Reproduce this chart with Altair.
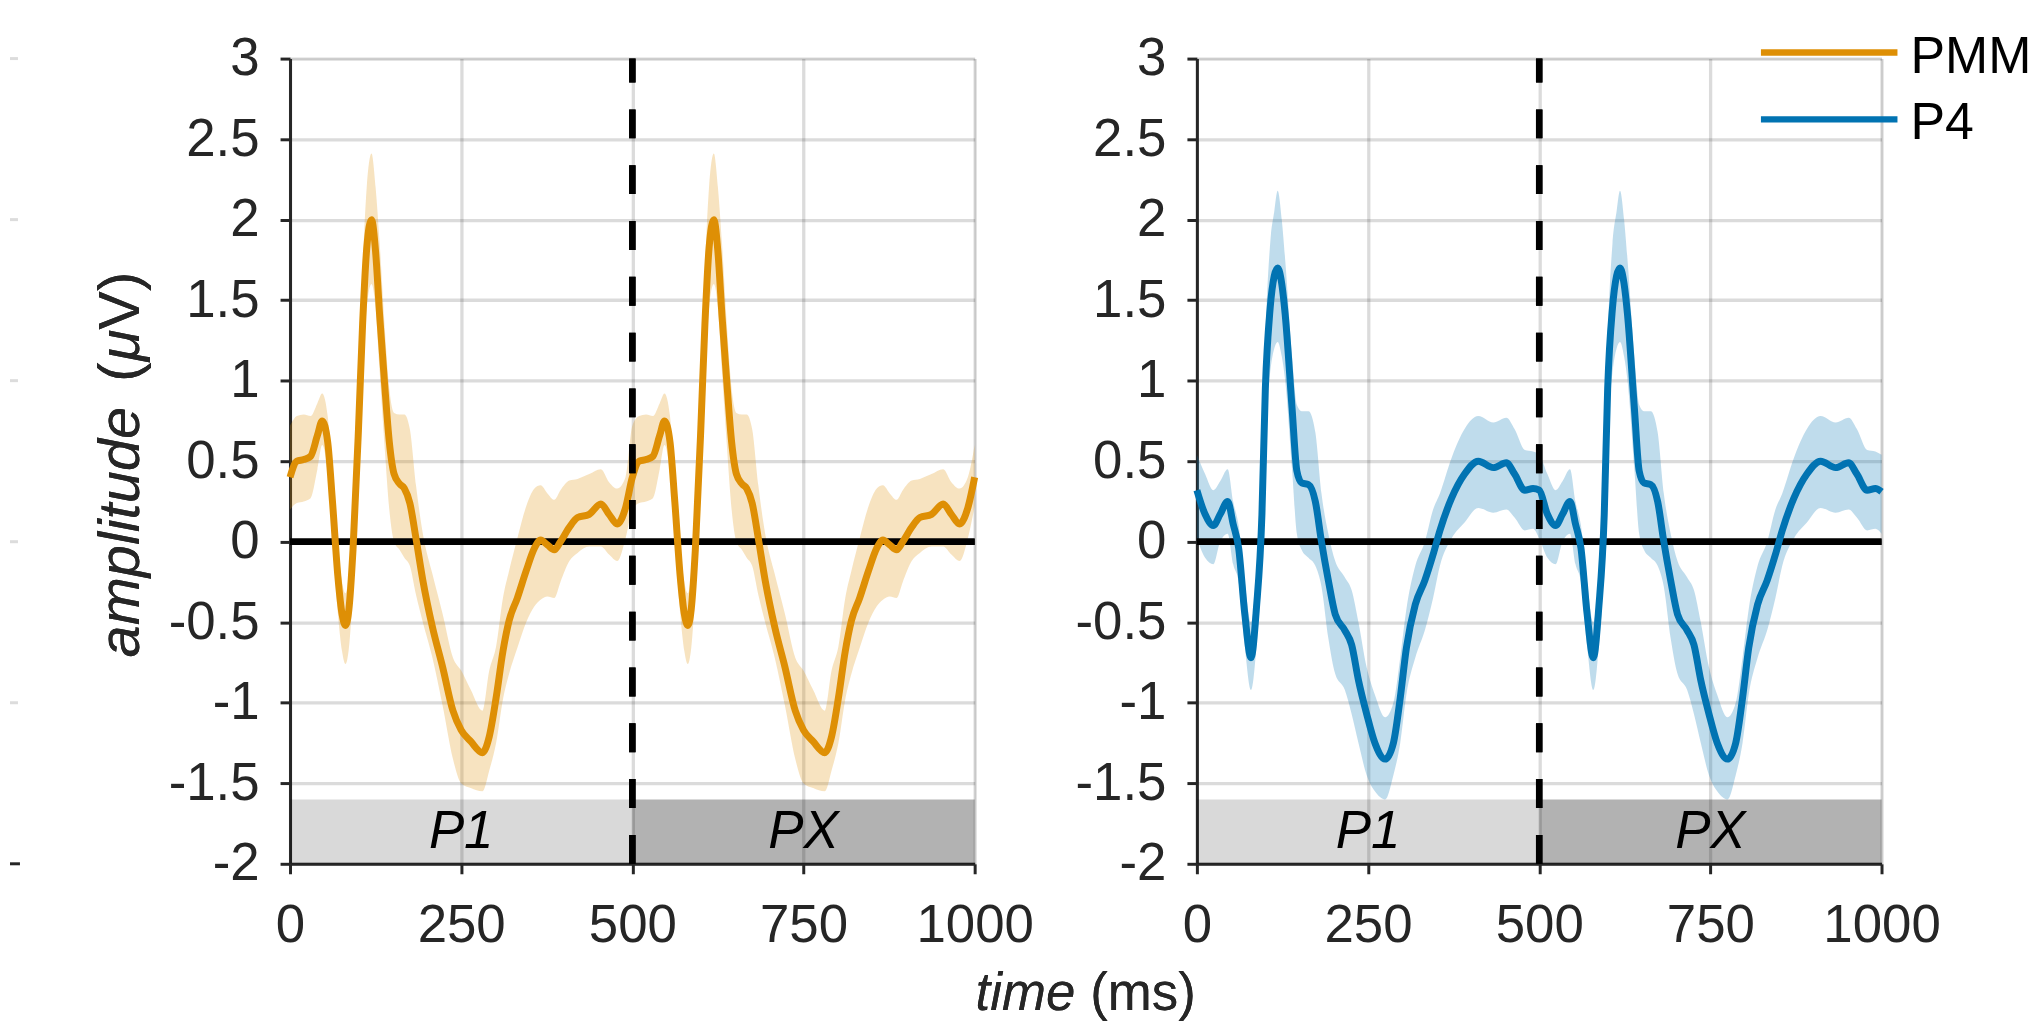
import altair as alt
import pandas as pd

# ---------------- data ----------------
# one 500 ms epoch; the figure shows the same epoch for P1 (0-500) and PX (500-1000)
pmm_t = [0, 10, 20, 30, 40, 47, 55, 62, 70, 76, 81, 86, 92, 100, 106, 112, 119, 125, 131, 138,
         145, 152, 160, 167, 175, 184, 194, 208, 223, 238, 250, 264, 281, 291, 301, 311, 320, 332, 345, 357,
         366, 376, 386, 395, 408, 420, 437, 454, 466, 478, 490, 500]
pmm_mean = [0.40, 0.50, 0.51, 0.53, 0.66, 0.75, 0.62, 0.25, -0.22, -0.45, -0.52, -0.42, -0.05, 0.70, 1.35, 1.82, 2.00, 1.80, 1.40, 0.99,
            0.62, 0.42, 0.36, 0.33, 0.24, 0.02, -0.24, -0.53, -0.78, -1.05, -1.17, -1.24, -1.31, -1.21, -0.97, -0.68, -0.49, -0.35, -0.18, -0.04,
            0.01, -0.02, -0.05, 0.00, 0.09, 0.15, 0.17, 0.235, 0.17, 0.11, 0.21, 0.40]
pmm_upper = [0.72, 0.78, 0.79, 0.78, 0.86, 0.92, 0.78, 0.42, -0.02, -0.25, -0.32, -0.20, 0.18, 0.95, 1.70, 2.20, 2.41, 2.20, 1.85, 1.35,
             0.95, 0.80, 0.79, 0.79, 0.70, 0.35, 0.05, -0.20, -0.45, -0.72, -0.80, -0.92, -1.05, -0.80, -0.65, -0.35, -0.18, 0.02, 0.22, 0.33,
             0.35, 0.30, 0.26, 0.32, 0.38, 0.39, 0.42, 0.45, 0.37, 0.33, 0.40, 0.60]
pmm_lower = [0.20, 0.24, 0.25, 0.27, 0.45, 0.60, 0.42, 0.02, -0.45, -0.68, -0.76, -0.66, -0.30, 0.45, 1.05, 1.45, 1.60, 1.45, 1.05, 0.60,
             0.20, 0.00, -0.05, -0.10, -0.15, -0.33, -0.50, -0.72, -1.02, -1.35, -1.50, -1.53, -1.55, -1.42, -1.25, -0.98, -0.82, -0.66, -0.50, -0.40,
             -0.36, -0.34, -0.35, -0.25, -0.12, -0.07, -0.03, -0.03, -0.08, -0.12, 0.02, 0.22]

p4_t = [0, 12, 24, 34, 45, 53, 61, 70, 79, 87, 95, 100, 107, 113, 118, 124, 129, 139, 146, 153,
        163, 173, 182, 192, 202, 216, 226, 236, 248, 260, 275, 287, 297, 306, 319, 333, 345, 355, 372, 391,
        411, 433, 452, 464, 479, 491, 500]
p4_mean = [0.32, 0.17, 0.10, 0.17, 0.25, 0.11, -0.04, -0.45, -0.72, -0.41, 0.17, 0.95, 1.45, 1.65, 1.70, 1.60, 1.41, 0.83, 0.44, 0.365,
           0.355, 0.25, 0.00, -0.24, -0.45, -0.55, -0.64, -0.86, -1.07, -1.25, -1.35, -1.25, -0.97, -0.66, -0.39, -0.24, -0.08, 0.07, 0.27, 0.42,
           0.50, 0.46, 0.49, 0.42, 0.32, 0.33, 0.31]
p4_upper = [0.54, 0.42, 0.32, 0.375, 0.45, 0.25, 0.10, -0.25, -0.50, -0.20, 0.45, 1.25, 1.85, 2.05, 2.18, 2.00, 1.75, 1.15, 0.85, 0.81,
            0.81, 0.68, 0.30, 0.05, -0.12, -0.22, -0.30, -0.50, -0.78, -0.95, -1.09, -1.00, -0.72, -0.42, -0.15, 0.00, 0.20, 0.30, 0.52, 0.70,
            0.78, 0.74, 0.77, 0.70, 0.57, 0.56, 0.54]
p4_lower = [0.02, -0.10, -0.14, 0.00, 0.05, -0.14, -0.25, -0.65, -0.92, -0.65, -0.10, 0.65, 1.05, 1.20, 1.24, 1.15, 1.00, 0.45, 0.05, -0.05,
            -0.10, -0.15, -0.28, -0.60, -0.82, -0.92, -1.07, -1.25, -1.45, -1.55, -1.60, -1.45, -1.25, -0.95, -0.72, -0.55, -0.35, -0.15, 0.02, 0.12,
            0.21, 0.18, 0.20, 0.15, 0.07, 0.08, 0.05]

epoch_offsets = [0, 500]
period_names = ["P1", "PX"]
period_start = [0, 500]
period_end = [500, 1000]
period_mid = [250, 750]
period_opacity = [0.15, 0.30]

legend_names = ["PMM", "P4"]
legend_colors = ["#DE8F05", "#0173B2"]

y_ticks = [-2, -1.5, -1, -0.5, 0, 0.5, 1, 1.5, 2, 2.5, 3]
x_ticks = [0, 250, 500, 750, 1000]
ghost_grid = [3, 2, 1, 0, -1]
ghost_axis = [-2]

# ---------------- tables ----------------
def epochs(t, m, u, l):
    rows = []
    for off in epoch_offsets:
        for ti, mi, ui, li in zip(t, m, u, l):
            if off == 0 and ti >= 500:
                continue
            rows.append({"time": ti + off, "mean": mi, "upper": ui, "lower": li})
    return pd.DataFrame(rows)

pmm_df = epochs(pmm_t, pmm_mean, pmm_upper, pmm_lower)
p4_df = epochs(p4_t, p4_mean, p4_upper, p4_lower)
periods_df = pd.DataFrame({"name": period_names, "start": period_start, "end": period_end,
                           "mid": period_mid, "op": period_opacity})

FONT = "Liberation Sans"
TXT = "#262626"
W, H = 687, 808

xs = alt.Scale(domain=[0, 1000], nice=False, zero=False)
ys = alt.Scale(domain=[-2, 3], nice=False, zero=False)

x_axis = alt.Axis(values=x_ticks, title=None, grid=True, labelFontSize=53, labelFont=FONT,
                  labelColor=TXT, labelPadding=26, tickSize=10, tickWidth=3, tickColor=TXT,
                  domainColor=TXT, domainWidth=3, gridColor="#000000", gridOpacity=0.14,
                  gridWidth=3.3, labelFlush=False, labelOverlap=False, labelExpr="datum.value + ''")
y_axis = alt.Axis(values=y_ticks, title=None, grid=True, labelFontSize=53, labelFont=FONT,
                  labelColor=TXT, labelPadding=21, tickSize=10, tickWidth=3, tickColor=TXT,
                  domainColor=TXT, domainWidth=3, gridColor="#000000", gridOpacity=0.14,
                  gridWidth=3.3, labelFlush=False, labelOverlap=False, labelExpr="datum.value + ''")


def panel(df, color, extra_layers):
    base = alt.Chart(df)
    bars = alt.Chart(periods_df).mark_rect(color="#000000").encode(
        x=alt.X("start:Q", scale=xs, axis=x_axis),
        x2="end:Q",
        y=alt.datum(-2, scale=ys, axis=y_axis),
        y2=alt.datum(-1.6),
        opacity=alt.Opacity("op:Q", scale=None, legend=None),
    )
    band = base.mark_area(color=color, opacity=0.25, interpolate="monotone").encode(
        x=alt.X("time:Q", scale=xs), y=alt.Y("lower:Q", scale=ys), y2="upper:Q")
    zero = alt.Chart(periods_df).mark_rule(color="#000000", strokeWidth=6.5).encode(y=alt.datum(0))
    line = base.mark_line(color=color, strokeWidth=7, interpolate="monotone").encode(
        x=alt.X("time:Q", scale=xs), y=alt.Y("mean:Q", scale=ys))
    labels = alt.Chart(periods_df).mark_text(font=FONT, fontSize=53, fontStyle="italic",
                                             color="#000000", baseline="middle").encode(
        x=alt.X("mid:Q", scale=xs), y=alt.datum(-1.8), text="name:N")
    dashed = alt.Chart(periods_df).mark_rule(color="#000000", strokeWidth=6.5,
                                              strokeDash=[29, 27]).encode(
        x=alt.datum(500), y=alt.datum(-2), y2=alt.datum(3))
    return alt.layer(bars, band, zero, line, labels, dashed, *extra_layers).properties(width=W, height=H)


def vtext(txt, y, italic=False, align="right"):
    kw = dict(font=FONT, fontSize=58, color=TXT, angle=270, align=align, baseline="alphabetic")
    if italic:
        kw["fontStyle"] = "italic"
    return alt.Chart(periods_df).mark_text(**kw).encode(
        x=alt.value(-152), y=alt.value(y), text=alt.value(txt))


# left panel extras: y title, x title, clipped neighbour ticks
ghost_df = pd.DataFrame({"v": ghost_grid})
ghost_axis_df = pd.DataFrame({"v": ghost_axis})
left_extra = [
    alt.Chart(ghost_df).mark_rule(color="#dcdcdc", strokeWidth=3).encode(
        x=alt.value(-281), x2=alt.value(-273), y=alt.Y("v:Q", scale=ys)),
    alt.Chart(ghost_axis_df).mark_rule(color=TXT, strokeWidth=3).encode(
        x=alt.value(-281), x2=alt.value(-271), y=alt.Y("v:Q", scale=ys)),
    vtext("amplitude", 601, italic=True, align="left"),
    vtext("(", 305),
    vtext("\u03bc", 272, italic=True),
    vtext("V)", 214),
    alt.Chart(periods_df).mark_text(font=FONT, fontSize=53, fontStyle="italic", color=TXT,
                                    align="right", baseline="alphabetic").encode(
        x=alt.value(788), y=alt.value(955), text=alt.value("time")),
    alt.Chart(periods_df).mark_text(font=FONT, fontSize=53, color=TXT,
                                    align="left", baseline="alphabetic").encode(
        x=alt.value(803), y=alt.value(955), text=alt.value("(ms)")),
]

# right panel extras: legend
right_extra = []
leg_line_y = [-6, 61]
leg_text_y = [14, 81]
for name, col, ly, ty in zip(legend_names, legend_colors, leg_line_y, leg_text_y):
    leg = pd.DataFrame({"name": [name]})
    right_extra.append(alt.Chart(leg).mark_rule(color=col, strokeWidth=6.5).encode(
        x=alt.value(566), x2=alt.value(703), y=alt.value(ly)))
    right_extra.append(alt.Chart(leg).mark_text(font=FONT, fontSize=52, color="#000000",
                                                align="left", baseline="alphabetic").encode(
        x=alt.value(716), y=alt.value(ty), text="name:N"))

left = panel(pmm_df, legend_colors[0], left_extra)
right = panel(p4_df, legend_colors[1], right_extra)

chart = alt.hconcat(left, right, spacing=223, bounds="flush").properties(
    padding={"left": 0, "top": 20, "right": 0, "bottom": 0}
).configure_view(stroke=None).configure(background="#ffffff")

chart.save("out.html", embed_options={"renderer": "svg", "actions": False})
